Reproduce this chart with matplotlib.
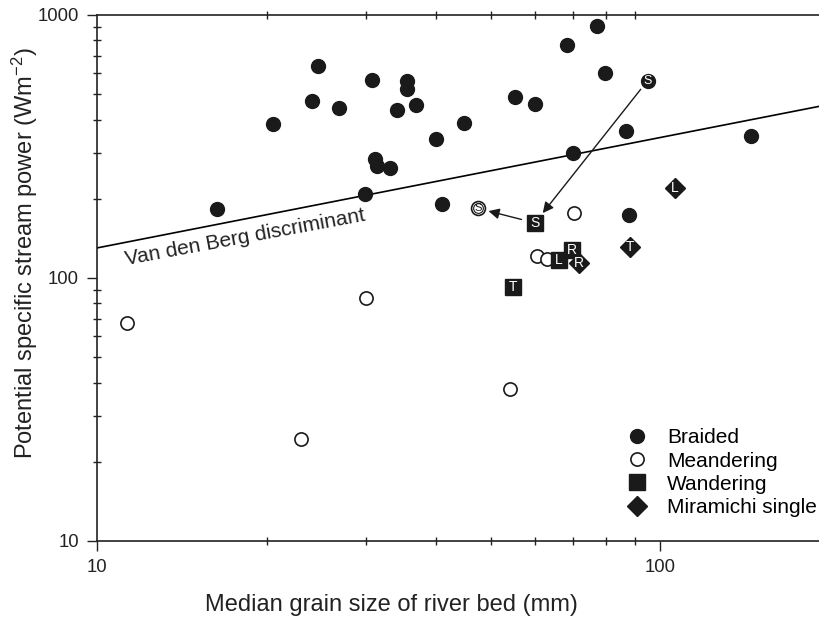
import matplotlib
matplotlib.use('Agg')
import matplotlib.pyplot as plt
import numpy as np

plt.rcParams['font.family'] = ['Liberation Sans', 'DejaVu Sans']
plt.rcParams['mathtext.default'] = 'regular'

# braided reaches (filled circles)
braided_x = [16.3, 20.5, 24.7, 24.1, 26.9, 30.8, 35.5, 35.5, 34.1, 36.9, 40.0,
             31.2, 31.4, 33.1, 29.9, 41.0, 44.9, 55.1, 60.0, 68.4, 77.3, 79.9,
             70.0, 86.9, 88.0, 145.1]
braided_y = [183, 384, 642, 470, 444, 566, 561, 523, 434, 456, 338,
             283, 267, 261, 209, 191, 388, 489, 459, 769, 908, 603,
             300, 362, 173, 347]

# meandering reaches (open circles)
meander_x = [11.3, 23.0, 30.0, 54.1, 70.2, 60.5, 62.9]
meander_y = [67.5, 24.4, 83.7, 37.7, 176, 121, 118.5]

# wandering reaches (squares, labelled)
wander_x = [59.9, 66.1, 69.7, 54.7]
wander_y = [162, 117, 128, 92.4]
wander_lbl = ['S', 'L', 'R', 'T']

# Miramichi single channel (diamonds, labelled)
mira_x = [71.6, 88.2, 106.0]
mira_y = [113.7, 130.8, 219.3]
mira_lbl = ['R', 'T', 'L']

# labelled "S" reach: braided and meandering states
s_braided = (94.9, 563)
s_meander = (47.4, 184)

# van den Berg discriminant: w = a * D^b (D in m)
vdb_a = 900
vdb_b = 0.42
vdb_d = np.array([10, 200])

ink = '#1a1a1a'

fig = plt.figure(figsize=(8.2, 6.17), dpi=100)
ax = fig.add_axes([0.1183, 0.1232, 0.8817, 0.8525])
ax.set_xscale('log')
ax.set_yscale('log')
ax.set_xlim(10, 192)
ax.set_ylim(10, 1000)

ax.plot(vdb_d, vdb_a * (vdb_d / 1000.0) ** vdb_b, color='k', lw=1.2, zorder=1)
ax.text(18.3, 143, 'Van den Berg discriminant', rotation=10.5, fontsize=15,
        ha='center', va='center', rotation_mode='anchor', color='#222222')

ax.plot(braided_x, braided_y, 'o', ms=10, color=ink, ls='none', label='Braided', zorder=3)
ax.plot(meander_x, meander_y, 'o', ms=9.5, mfc='white', mec=ink, mew=1.2,
        ls='none', label='Meandering', zorder=3)
ax.plot(wander_x, wander_y, 's', ms=12, color=ink, ls='none', label='Wandering', zorder=3)
ax.plot(mira_x, mira_y, 'D', ms=10.5, color=ink, ls='none', label='Miramichi single', zorder=3)

for x, y, t in zip(wander_x, wander_y, wander_lbl):
    ax.text(x, y, t, color='white', fontsize=10, ha='center', va='center', zorder=4)
for x, y, t in zip(mira_x, mira_y, mira_lbl):
    ax.text(x, y, t, color='white', fontsize=10, ha='center', va='center', zorder=4)

# S reach before / after
ax.plot(*s_braided, 'o', ms=10, color=ink, zorder=3)
ax.text(*s_braided, 'S', color='white', fontsize=9, ha='center', va='center', zorder=4)
ax.plot(*s_meander, 'o', ms=10, mfc='white', mec=ink, mew=1.2, zorder=3)
ax.plot(*s_meander, 'o', ms=7, mfc='white', mec=ink, mew=0.8, zorder=3)
ax.text(*s_meander, 'S', color=ink, fontsize=8, ha='center', va='center', zorder=4)

arrow = dict(arrowstyle='-|>', color=ink, lw=1.0, mutation_scale=16)
ax.annotate('', xy=(wander_x[0], wander_y[0]), xytext=s_braided,
            arrowprops=dict(arrow, shrinkA=8, shrinkB=9))
ax.annotate('', xy=s_meander, xytext=(wander_x[0], wander_y[0]),
            arrowprops=dict(arrow, shrinkA=10, shrinkB=8))

ax.set_xticks([10, 100])
ax.set_xticklabels(['10', '100'])
ax.set_yticks([10, 100, 1000])
ax.set_yticklabels(['10', '100', '1000'])
ax.tick_params(which='major', direction='out', length=7, width=1, labelsize=13.3,
               colors='#222222', pad=6)
ax.tick_params(which='minor', direction='inout', length=6, width=1, top=True, colors='#222222')
ax.tick_params(axis='x', which='minor', labelbottom=False)
ax.tick_params(axis='y', which='minor', labelleft=False)
ax.spines['right'].set_visible(False)
for s in ['left', 'top', 'bottom']:
    ax.spines[s].set_linewidth(1.2)
    ax.spines[s].set_color('#222222')

fig.text(391 / 820, 1 - 605 / 617, 'Median grain size of river bed (mm)', fontsize=17,
         color='#222222', ha='center', va='center')
fig.text(25 / 820, 1 - 253 / 617, 'Potential specific stream power (Wm$^{-2}$)', fontsize=17,
         color='#222222', ha='center', va='center', rotation=90)

ax.legend(loc='lower right', bbox_to_anchor=(1.007, 0.03), frameon=False, fontsize=15,
          handletextpad=0.85, labelspacing=0.2, borderaxespad=0, handlelength=1.2)

fig.savefig('out.png', dpi=100)
